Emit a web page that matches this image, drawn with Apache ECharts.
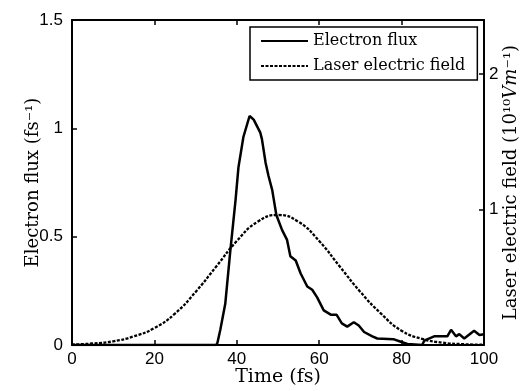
<!DOCTYPE html>
<html>
<head>
<meta charset="utf-8">
<script src="https://cdn.jsdelivr.net/npm/echarts@6/dist/echarts.min.js"></script>
<style>html,body{margin:0;padding:0;background:#fff;overflow:hidden;}#c{width:520px;height:391px;}</style>
</head>
<body>
<div id="c"></div>
<script>
// Electron flux (fs^-1) vs time (fs)
var fluxTime = [0, 35, 35.3, 36, 37.2, 38.4, 39.7, 40.4, 41.6, 43.1, 44.1, 45.7, 46.1, 47, 47.7, 48.6, 49.6, 51, 52.2, 53, 54.3, 55.5, 57.1, 58.3, 59.5, 61.1, 62.8, 64.2, 65.5, 66.8, 68.4, 69.6, 70.9, 72.9, 74.1, 78, 79.8, 81.4, 85, 85.5, 87.9, 91.1, 92, 93.2, 94, 95.2, 97.6, 98.9, 100];
var fluxValues = [0, 0, 0.01, 0.07, 0.19, 0.43, 0.67, 0.82, 0.96, 1.057, 1.04, 0.98, 0.95, 0.84, 0.78, 0.715, 0.6, 0.53, 0.485, 0.41, 0.39, 0.33, 0.27, 0.255, 0.22, 0.16, 0.14, 0.14, 0.1, 0.085, 0.105, 0.09, 0.06, 0.04, 0.03, 0.027, 0.015, 0.005, 0, 0.02, 0.04, 0.04, 0.07, 0.04, 0.05, 0.03, 0.066, 0.046, 0.05];
// Laser electric field (10^10 V/m) vs time (fs)
var laserTime = [0, 5, 10, 15, 20, 25, 30, 35, 40, 45, 50, 55, 60, 65, 70, 75, 80, 85, 90, 95, 100];
var laserValues = [0.003, 0.011, 0.027, 0.064, 0.125, 0.232, 0.392, 0.579, 0.768, 0.909, 0.96, 0.909, 0.768, 0.579, 0.392, 0.232, 0.105, 0.045, 0.017, 0.006, 0.002];
var seriesNames = ['Electron flux', 'Laser electric field'];

function pairs(xs, ys) { return xs.map(function (x, i) { return [x, ys[i]]; }); }

var labelFont = { color: '#000', fontFamily: 'Liberation Sans, Arial, sans-serif', fontSize: 17 };
var serif = 'DejaVu Serif, serif';
var axisLine = { show: true, onZero: false, lineStyle: { color: '#000', width: 2 } };
var tickIn = { show: true, inside: true, length: 5, lineStyle: { color: '#000', width: 1.5 } };

var chart = echarts.init(document.getElementById('c'), null, { renderer: 'canvas' });
chart.setOption({
  animation: false,
  backgroundColor: '#fff',
  grid: { left: 72, right: 36, top: 20, bottom: 46, containLabel: false, outerBoundsMode: 'none' },
  legend: {
    left: 250, top: 27, orient: 'vertical',
    padding: [6, 12, 6, 10], itemGap: 9, itemWidth: 47, itemHeight: 14,
    backgroundColor: '#fff', borderColor: '#000', borderWidth: 1.5, borderRadius: 0,
    itemStyle: { opacity: 0 },
    textStyle: { fontFamily: serif, fontSize: 16, color: '#000', lineHeight: 16 },
    data: seriesNames
  },
  xAxis: [{
    type: 'value', min: 0, max: 100, interval: 20, position: 'bottom',
    axisLine: axisLine, axisTick: tickIn, splitLine: { show: false },
    axisLabel: Object.assign({ margin: 6 }, labelFont),
    name: 'Time (fs)', nameLocation: 'middle', nameGap: 23, nameMoveOverlap: false,
    nameTextStyle: { fontFamily: serif, fontSize: 19, color: '#000' }
  }, {
    type: 'value', min: 0, max: 100, interval: 20, position: 'top',
    axisLine: axisLine, axisTick: tickIn, splitLine: { show: false },
    axisLabel: { show: false }
  }],
  yAxis: [{
    type: 'value', min: 0, max: 1.5, interval: 0.5, position: 'left',
    axisLine: axisLine, axisTick: tickIn, splitLine: { show: false },
    axisLabel: Object.assign({ margin: 9 }, labelFont),
    name: 'Electron flux (fs⁻¹)', nameLocation: 'middle', nameGap: 30, nameRotate: 90, nameMoveOverlap: false,
    nameTextStyle: { fontFamily: serif, fontSize: 18, color: '#000' }
  }, {
    type: 'value', min: 0, max: 2.4, interval: 1, position: 'right',
    axisLine: axisLine, axisTick: tickIn, splitLine: { show: false },
    axisLabel: Object.assign({ margin: 5, showMinLabel: false, showMaxLabel: false }, labelFont),
    name: '{n|Laser electric field (10¹⁰}{i|Vm}{n|⁻¹)}', nameLocation: 'middle', nameGap: 18, nameRotate: 90, nameMoveOverlap: false,
    nameTextStyle: {
      fontFamily: serif, fontSize: 18, color: '#000',
      rich: {
        n: { fontFamily: serif, fontSize: 18, color: '#000' },
        i: { fontFamily: serif, fontSize: 18, color: '#000', fontStyle: 'italic' }
      }
    }
  }],
  series: [{
    name: seriesNames[0], type: 'line', xAxisIndex: 0, yAxisIndex: 0,
    data: pairs(fluxTime, fluxValues), symbol: 'none', smooth: false,
    lineStyle: { color: '#000', width: 2.5 }, itemStyle: { color: '#000' }
  }, {
    name: seriesNames[1], type: 'line', xAxisIndex: 0, yAxisIndex: 1,
    data: pairs(laserTime, laserValues), symbol: 'none', smooth: true,
    lineStyle: { color: '#000', width: 2.3, type: [3, 1.5] }, itemStyle: { color: '#000' }
  }]
});
</script>
</body>
</html>
